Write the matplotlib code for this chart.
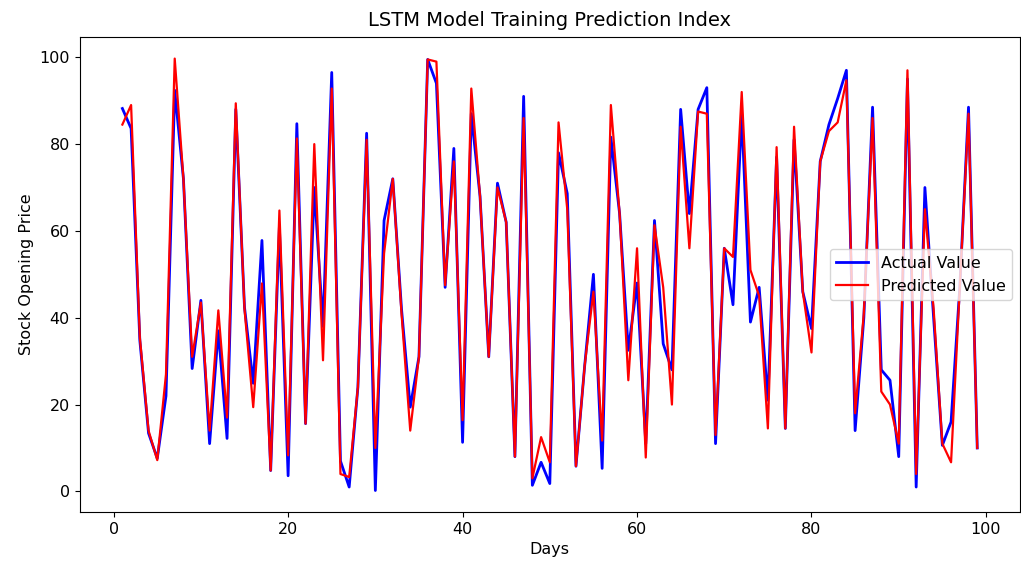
import matplotlib
matplotlib.use('Agg')
import matplotlib.pyplot as plt
import numpy as np

## --- Data --- ##

days = list(range(1, 100))

actual = [
    88.2, 83.6, 34.8, 13.4, 7.6, 22.0, 92.4, 72.0, 28.3, 44.0,
    11.0, 37.0, 12.2, 88.0, 42.4, 24.9, 57.8, 4.8, 61.0, 3.6,
    84.7, 15.6, 70.0, 38.0, 96.5, 7.0, 1.0, 24.0, 82.5, 0.2,
    62.4, 72.0, 42.0, 19.4, 31.0, 99.5, 94.0, 47.0, 79.0, 11.3,
    87.0, 68.0, 31.0, 71.0, 62.0, 8.0, 91.0, 1.4, 6.7, 1.8,
    78.0, 68.6, 5.8, 29.0, 50.0, 5.3, 81.6, 64.0, 32.5, 48.0,
    11.0, 62.4, 34.0, 28.0, 88.0, 64.0, 88.0, 93.0, 11.0, 56.0,
    43.0, 87.0, 39.0, 47.0, 21.0, 77.0, 14.5, 81.0, 46.0, 37.5,
    76.0, 84.5, 90.5, 97.0, 14.0, 40.0, 88.5, 28.0, 25.6, 8.0,
    95.0, 1.0, 70.0, 40.0, 10.6, 16.0, 47.0, 88.5, 10.0,
]

predicted = [
    84.5, 89.0, 35.5, 14.0, 7.2, 27.0, 99.7, 72.0, 31.0, 43.5,
    14.0, 41.7, 17.0, 89.4, 42.0, 19.4, 47.9, 4.8, 64.7, 8.3,
    81.3, 15.6, 80.0, 30.2, 92.8, 4.0, 3.3, 24.0, 81.0, 10.0,
    54.8, 72.0, 41.0, 14.0, 31.0, 99.5, 99.0, 47.5, 76.0, 16.4,
    92.8, 68.0, 31.0, 70.0, 62.0, 8.0, 86.0, 3.0, 12.5, 6.7,
    85.0, 65.0, 5.8, 29.0, 46.0, 11.7, 89.0, 64.0, 25.6, 56.0,
    7.8, 61.3, 47.0, 20.0, 84.0, 56.0, 87.5, 87.0, 13.0, 56.0,
    54.0, 92.0, 51.0, 45.0, 14.5, 79.3, 14.5, 84.0, 46.0, 32.0,
    76.0, 83.0, 85.0, 94.7, 18.0, 41.0, 86.0, 23.0, 20.0, 11.0,
    97.0, 4.0, 65.0, 42.0, 11.0, 6.7, 47.0, 87.0, 10.0,
]

## --- Plot --- ##

fig = plt.figure(figsize=(10.21, 5.69), dpi=100)
ax = fig.add_axes([0.078, 0.100, 0.921, 0.835])

ax.plot(days, actual, color='blue', linewidth=2.0, label='Actual Value')
ax.plot(days, predicted, color='red', linewidth=1.6, label='Predicted Value')

ax.set_title('LSTM Model Training Prediction Index', fontsize=14, pad=8)
ax.set_xlabel('Days', fontsize=11.5)
ax.set_ylabel('Stock Opening Price', fontsize=11.5)
ax.tick_params(labelsize=11.5)
ax.set_xticks([0, 20, 40, 60, 80, 100])
ax.set_yticks([0, 20, 40, 60, 80, 100])

ax.legend(loc='center right', fontsize=11.5)

fig.savefig('out.png', dpi=100)
